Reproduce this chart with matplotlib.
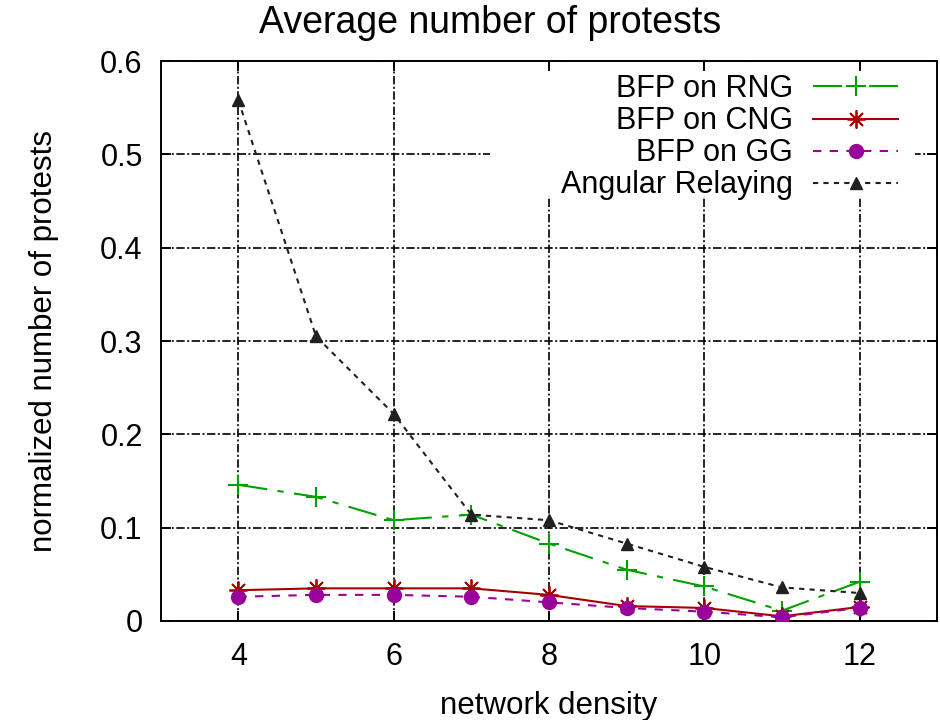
"""Average number of protests vs network density (gnuplot-style line chart)."""

import matplotlib
matplotlib.use('Agg')
import matplotlib.pyplot as plt
from matplotlib.patches import Rectangle

plt.rcParams['font.family'] = ['Liberation Sans', 'DejaVu Sans']

density = [4, 5, 6, 7, 8, 9, 10, 11, 12]
bfp_rng = [0.146, 0.133, 0.108, 0.114, 0.083, 0.055, 0.037, 0.011, 0.042]
bfp_cng = [0.033, 0.035, 0.035, 0.035, 0.028, 0.016, 0.014, 0.005, 0.015]
bfp_gg = [0.026, 0.028, 0.028, 0.026, 0.020, 0.014, 0.010, 0.004, 0.014]
angular = [0.558, 0.305, 0.222, 0.114, 0.108, 0.083, 0.058, 0.036, 0.030]

labels = ['BFP on RNG', 'BFP on CNG', 'BFP on GG', 'Angular Relaying']
xticks = [4, 6, 8, 10, 12]
yticks = [0, 0.1, 0.2, 0.3, 0.4, 0.5, 0.6]
ytick_labels = ['0', '0.1', '0.2', '0.3', '0.4', '0.5', '0.6']


def main():
    fig = plt.figure(figsize=(9.4, 7.2), dpi=100)
    ax = fig.add_axes([0.171, 0.1375, 0.826, 0.7775])

    ax.plot(density, bfp_rng, color='#00a000', lw=1.5, ls=(0, (14, 5, 3, 5)),
            marker='+', ms=14, mew=1.5, label=labels[0], zorder=3)
    ax.plot(density, bfp_cng, color='#a80000', lw=1.5, ls='-',
            marker=(8, 2, 0), ms=13, mew=1.3, label=labels[1], zorder=3)
    ax.plot(density, bfp_gg, color='#9a009a', lw=1.5, ls=(0, (4, 4)),
            marker='o', ms=10, label=labels[2], zorder=3)
    ax.plot(density, angular, color='#202020', lw=1.5, ls=(0, (2.5, 2.5)),
            marker='^', ms=9, label=labels[3], zorder=3)

    ax.set_xlim(3, 13)
    ax.set_ylim(0, 0.6)
    ax.set_xticks(xticks)
    ax.set_yticks(yticks)
    ax.set_yticklabels(ytick_labels)

    ax.set_axisbelow(True)
    ax.grid(True, color='black', lw=1.2, ls=(0, (5, 1.5, 1.2, 1.5)))
    # white key area hides the grid like gnuplot's opaque key
    ax.add_patch(Rectangle((0.424, 0.759), 0.548, 0.224, transform=ax.transAxes,
                           facecolor='white', edgecolor='none', zorder=1))

    for s in ax.spines.values():
        s.set_linewidth(1.4)
    ax.tick_params(direction='in', length=7, width=1.3, top=True, right=True,
                   labelsize=22)
    ax.tick_params(axis='x', pad=15)
    ax.tick_params(axis='y', pad=13)

    fig.text(490 / 940, 0.954, 'Average number of protests', fontsize=27,
             ha='center', va='baseline')
    ax.set_xlabel('network density', fontsize=22.5, labelpad=14)
    ax.set_ylabel('normalized number of protests', fontsize=22.5, labelpad=30)

    ax.legend(loc='upper right', bbox_to_anchor=(0.95, 0.977), frameon=False,
              markerfirst=False, fontsize=22, handlelength=2.8,
              handletextpad=0.65, labelspacing=0.07, borderpad=0,
              borderaxespad=0, numpoints=1)

    fig.savefig('out.png', dpi=100)


if __name__ == "__main__":
    main()
